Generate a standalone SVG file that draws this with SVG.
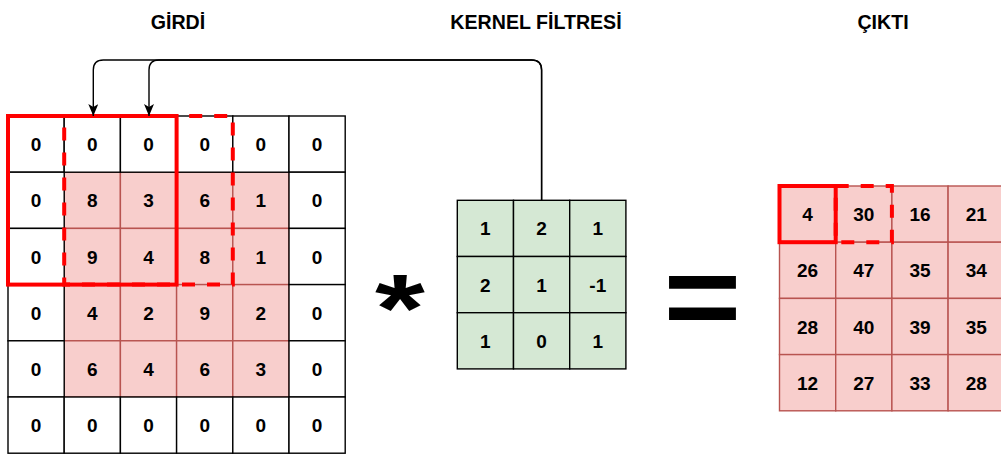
<svg xmlns="http://www.w3.org/2000/svg" width="1001" height="454" viewBox="0 0 1001 454">
<style>
.t{font-family:"Liberation Sans",Arial,sans-serif;font-weight:bold;fill:#000;text-anchor:middle}
.ttl{font-size:19.6px}
.d{font-size:19px}
.w{fill:#fff;stroke:#000;stroke-width:1.4}
.p{fill:#f8cecc;stroke:#b85450;stroke-width:1.4}
.g{fill:#d5e8d4;stroke:#000;stroke-width:1.4}
.rs{fill:none;stroke:#ff0000;stroke-width:4}
.rd{fill:none;stroke:#ff0000;stroke-width:4;stroke-dasharray:13 12}
.c{fill:none;stroke:#000;stroke-width:1.4}
</style>
<defs>
<marker id="arr" markerUnits="userSpaceOnUse" viewBox="0 0 12 10" refX="12" refY="5" markerWidth="12" markerHeight="10" orient="auto">
<path d="M0,0 L12,5 L0,10 L3,5 z" fill="#000"/>
</marker>
</defs>
<rect width="1001" height="454" fill="#fff"/>

<g id="titles">
<text class="t ttl" x="178" y="29">GİRDİ</text>
<text class="t ttl" x="536" y="29">KERNEL FİLTRESİ</text>
<text class="t ttl" x="883" y="29">ÇIKTI</text>
</g>

<g id="input">
<rect class="p" x="64.2" y="172.2" width="56.2" height="56.2"/>
<rect class="p" x="120.4" y="172.2" width="56.2" height="56.2"/>
<rect class="p" x="176.6" y="172.2" width="56.2" height="56.2"/>
<rect class="p" x="232.8" y="172.2" width="56.2" height="56.2"/>
<rect class="p" x="64.2" y="228.4" width="56.2" height="56.2"/>
<rect class="p" x="120.4" y="228.4" width="56.2" height="56.2"/>
<rect class="p" x="176.6" y="228.4" width="56.2" height="56.2"/>
<rect class="p" x="232.8" y="228.4" width="56.2" height="56.2"/>
<rect class="p" x="64.2" y="284.6" width="56.2" height="56.2"/>
<rect class="p" x="120.4" y="284.6" width="56.2" height="56.2"/>
<rect class="p" x="176.6" y="284.6" width="56.2" height="56.2"/>
<rect class="p" x="232.8" y="284.6" width="56.2" height="56.2"/>
<rect class="p" x="64.2" y="340.8" width="56.2" height="56.2"/>
<rect class="p" x="120.4" y="340.8" width="56.2" height="56.2"/>
<rect class="p" x="176.6" y="340.8" width="56.2" height="56.2"/>
<rect class="p" x="232.8" y="340.8" width="56.2" height="56.2"/>
<rect class="w" x="8" y="116" width="56.2" height="56.2"/>
<rect class="w" x="64.2" y="116" width="56.2" height="56.2"/>
<rect class="w" x="120.4" y="116" width="56.2" height="56.2"/>
<rect class="w" x="176.6" y="116" width="56.2" height="56.2"/>
<rect class="w" x="232.8" y="116" width="56.2" height="56.2"/>
<rect class="w" x="289" y="116" width="56.2" height="56.2"/>
<rect class="w" x="8" y="172.2" width="56.2" height="56.2"/>
<rect class="w" x="289" y="172.2" width="56.2" height="56.2"/>
<rect class="w" x="8" y="228.4" width="56.2" height="56.2"/>
<rect class="w" x="289" y="228.4" width="56.2" height="56.2"/>
<rect class="w" x="8" y="284.6" width="56.2" height="56.2"/>
<rect class="w" x="289" y="284.6" width="56.2" height="56.2"/>
<rect class="w" x="8" y="340.8" width="56.2" height="56.2"/>
<rect class="w" x="289" y="340.8" width="56.2" height="56.2"/>
<rect class="w" x="8" y="397" width="56.2" height="56.2"/>
<rect class="w" x="64.2" y="397" width="56.2" height="56.2"/>
<rect class="w" x="120.4" y="397" width="56.2" height="56.2"/>
<rect class="w" x="176.6" y="397" width="56.2" height="56.2"/>
<rect class="w" x="232.8" y="397" width="56.2" height="56.2"/>
<rect class="w" x="289" y="397" width="56.2" height="56.2"/>
<text class="t d" x="36.1" y="151.1">0</text><text class="t d" x="92.3" y="151.1">0</text><text class="t d" x="148.5" y="151.1">0</text><text class="t d" x="204.7" y="151.1">0</text><text class="t d" x="260.9" y="151.1">0</text><text class="t d" x="317.1" y="151.1">0</text>
<text class="t d" x="36.1" y="207.3">0</text><text class="t d" x="92.3" y="207.3">8</text><text class="t d" x="148.5" y="207.3">3</text><text class="t d" x="204.7" y="207.3">6</text><text class="t d" x="260.9" y="207.3">1</text><text class="t d" x="317.1" y="207.3">0</text>
<text class="t d" x="36.1" y="263.5">0</text><text class="t d" x="92.3" y="263.5">9</text><text class="t d" x="148.5" y="263.5">4</text><text class="t d" x="204.7" y="263.5">8</text><text class="t d" x="260.9" y="263.5">1</text><text class="t d" x="317.1" y="263.5">0</text>
<text class="t d" x="36.1" y="319.7">0</text><text class="t d" x="92.3" y="319.7">4</text><text class="t d" x="148.5" y="319.7">2</text><text class="t d" x="204.7" y="319.7">9</text><text class="t d" x="260.9" y="319.7">2</text><text class="t d" x="317.1" y="319.7">0</text>
<text class="t d" x="36.1" y="375.9">0</text><text class="t d" x="92.3" y="375.9">6</text><text class="t d" x="148.5" y="375.9">4</text><text class="t d" x="204.7" y="375.9">6</text><text class="t d" x="260.9" y="375.9">3</text><text class="t d" x="317.1" y="375.9">0</text>
<text class="t d" x="36.1" y="432.1">0</text><text class="t d" x="92.3" y="432.1">0</text><text class="t d" x="148.5" y="432.1">0</text><text class="t d" x="204.7" y="432.1">0</text><text class="t d" x="260.9" y="432.1">0</text><text class="t d" x="317.1" y="432.1">0</text>
</g>

<g id="input-window">
<rect class="rd" x="64.2" y="116" width="168.6" height="168.6"/>
<rect class="rs" x="8" y="116" width="168.6" height="168.6"/>
</g>

<g id="operator-multiply">
<text class="t" transform="translate(400,340.5) scale(1.32,1)" x="0" y="0" font-size="97">*</text>
</g>

<g id="kernel">
<rect class="g" x="457.3" y="200.3" width="56.2" height="56.2"/>
<rect class="g" x="513.5" y="200.3" width="56.2" height="56.2"/>
<rect class="g" x="569.7" y="200.3" width="56.2" height="56.2"/>
<rect class="g" x="457.3" y="256.5" width="56.2" height="56.2"/>
<rect class="g" x="513.5" y="256.5" width="56.2" height="56.2"/>
<rect class="g" x="569.7" y="256.5" width="56.2" height="56.2"/>
<rect class="g" x="457.3" y="312.7" width="56.2" height="56.2"/>
<rect class="g" x="513.5" y="312.7" width="56.2" height="56.2"/>
<rect class="g" x="569.7" y="312.7" width="56.2" height="56.2"/>
<text class="t d" x="485.4" y="235.4">1</text><text class="t d" x="541.6" y="235.4">2</text><text class="t d" x="597.8" y="235.4">1</text>
<text class="t d" x="485.4" y="291.6">2</text><text class="t d" x="541.6" y="291.6">1</text><text class="t d" x="597.8" y="291.6">-1</text>
<text class="t d" x="485.4" y="347.8">1</text><text class="t d" x="541.6" y="347.8">0</text><text class="t d" x="597.8" y="347.8">1</text>
</g>

<g id="operator-equals">
<text class="t" transform="translate(702.5,337) scale(1.15,1)" x="0" y="0" font-size="116">=</text>
</g>

<g id="output">
<rect class="p" x="779.5" y="186" width="56.2" height="56.2"/>
<rect class="p" x="835.7" y="186" width="56.2" height="56.2"/>
<rect class="p" x="891.9" y="186" width="56.2" height="56.2"/>
<rect class="p" x="948.1" y="186" width="56.2" height="56.2"/>
<rect class="p" x="779.5" y="242.2" width="56.2" height="56.2"/>
<rect class="p" x="835.7" y="242.2" width="56.2" height="56.2"/>
<rect class="p" x="891.9" y="242.2" width="56.2" height="56.2"/>
<rect class="p" x="948.1" y="242.2" width="56.2" height="56.2"/>
<rect class="p" x="779.5" y="298.4" width="56.2" height="56.2"/>
<rect class="p" x="835.7" y="298.4" width="56.2" height="56.2"/>
<rect class="p" x="891.9" y="298.4" width="56.2" height="56.2"/>
<rect class="p" x="948.1" y="298.4" width="56.2" height="56.2"/>
<rect class="p" x="779.5" y="354.6" width="56.2" height="56.2"/>
<rect class="p" x="835.7" y="354.6" width="56.2" height="56.2"/>
<rect class="p" x="891.9" y="354.6" width="56.2" height="56.2"/>
<rect class="p" x="948.1" y="354.6" width="56.2" height="56.2"/>
<text class="t d" x="807.6" y="221.1">4</text><text class="t d" x="863.8" y="221.1">30</text><text class="t d" x="920" y="221.1">16</text><text class="t d" x="976.2" y="221.1">21</text>
<text class="t d" x="807.6" y="277.3">26</text><text class="t d" x="863.8" y="277.3">47</text><text class="t d" x="920" y="277.3">35</text><text class="t d" x="976.2" y="277.3">34</text>
<text class="t d" x="807.6" y="333.5">28</text><text class="t d" x="863.8" y="333.5">40</text><text class="t d" x="920" y="333.5">39</text><text class="t d" x="976.2" y="333.5">35</text>
<text class="t d" x="807.6" y="389.7">12</text><text class="t d" x="863.8" y="389.7">27</text><text class="t d" x="920" y="389.7">33</text><text class="t d" x="976.2" y="389.7">28</text>
</g>

<g id="output-window">
<rect class="rd" x="835.7" y="186" width="56.2" height="56.2"/>
<rect class="rs" x="779.5" y="186" width="56.2" height="56.2"/>
</g>

<g id="connectors">
<path class="c" d="M541.6,200.3 V70 Q541.6,60 531.6,60 H103.3 Q93.3,60 93.3,70 V116" marker-end="url(#arr)"/>
<path class="c" d="M541.6,200.3 V70 Q541.6,60 531.6,60 H159 Q149,60 149,70 V116" marker-end="url(#arr)"/>
</g>
</svg>
